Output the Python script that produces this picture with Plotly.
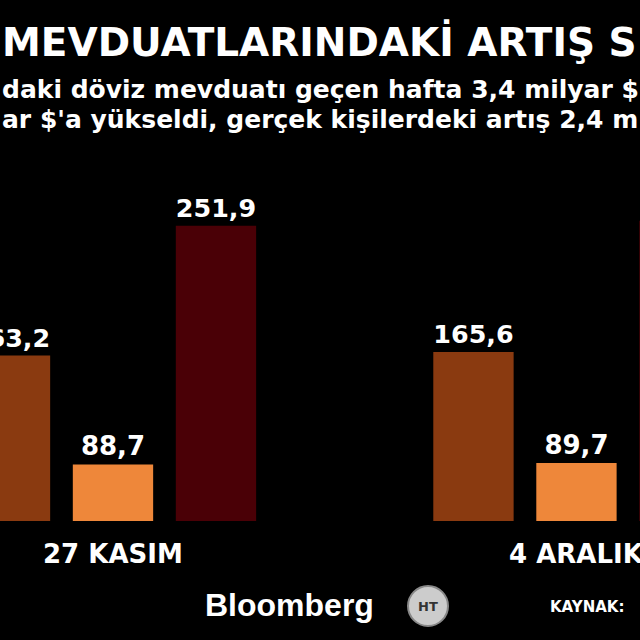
import plotly.graph_objects as go

groups = ["27 KASIM", "4 ARALIK"]
tuzel = [163.2, 165.6]
gercek = [88.7, 89.7]
toplam = [251.9, 255.3]

colors = ["#8A3A10", "#EE873A", "#4A0006"]
series = [tuzel, gercek, toplam]
group_pos = [0, 4.5]

def fmt(v):
    return "<b>" + f"{v:.1f}".replace(".", ",") + "</b>"

fig = go.Figure()
for i, vals in enumerate(series):
    xs = [g + i for g in group_pos]
    fig.add_trace(go.Bar(
        x=xs, y=vals, base=0, width=0.78,
        marker=dict(color=colors[i], line=dict(width=0)),
        text=[fmt(v) for v in vals], textposition="outside",
        textfont=dict(family="DejaVu Sans", size=26, color="white"),
        cliponaxis=False, showlegend=False,
    ))

font_b = dict(family="DejaVu Sans", color="white")
annos = [
    dict(x=0, y=640 - 42, text="<b>MEVDUATLARINDAKİ ARTIŞ S</b>", font=dict(size=39, **font_b), xanchor="left"),
    dict(x=0, y=640 - 89, text="<b>daki döviz mevduatı geçen hafta 3,4 milyar $</b>", font=dict(size=25, **font_b), xanchor="left"),
    dict(x=0, y=640 - 119, text="<b>ar $'a yükseldi, gerçek kişilerdeki artış 2,4 m</b>", font=dict(size=25, **font_b), xanchor="left"),
]
for g, cx in zip(groups, [113, 576]):
    annos.append(dict(x=cx, y=640 - 554, text="<b>" + g + "</b>", font=dict(size=26, **font_b), xanchor="center"))
annos += [
    dict(x=289, y=640 - 605, text="<b>Bloomberg</b>", font=dict(size=32, family="Liberation Sans", color="white"), xanchor="center"),
    dict(x=428, y=640 - 606, text="<b>HT</b>", font=dict(size=13, color="#333", family="DejaVu Sans"), xanchor="center"),
    dict(x=548, y=640 - 607, text="<b>KAYNAK:</b>", font=dict(size=15, **font_b), xanchor="left"),
]
for a in annos:
    a.update(xref="paper", yref="paper", showarrow=False, yanchor="middle")
    a["x"] = a["x"] / 640
    a["y"] = (a["y"] - 119) / 361

fig.update_layout(
    width=640, height=640,
    paper_bgcolor="black", plot_bgcolor="black",
    margin=dict(l=0, r=0, t=160, b=119),
    xaxis=dict(range=[-0.097, 6.117], visible=False),
    yaxis=dict(range=[50, 296.8], visible=False),
    annotations=annos,
    shapes=[dict(type="circle", xref="paper", yref="paper",
                 x0=408 / 640, x1=448 / 640,
                 y0=(640 - 626 - 119) / 361, y1=(640 - 586 - 119) / 361,
                 fillcolor="#cccccc", line=dict(color="#888", width=2))],
)
fig.write_html("out.html", config={"displayModeBar": False})

# remove the default page margin so the chart fills the window
with open("out.html", encoding="utf-8") as f:
    html = f.read()
html = html.replace("<head>", "<head><style>body{margin:0;background:black;overflow:hidden}</style>", 1)
with open("out.html", "w", encoding="utf-8") as f:
    f.write(html)
